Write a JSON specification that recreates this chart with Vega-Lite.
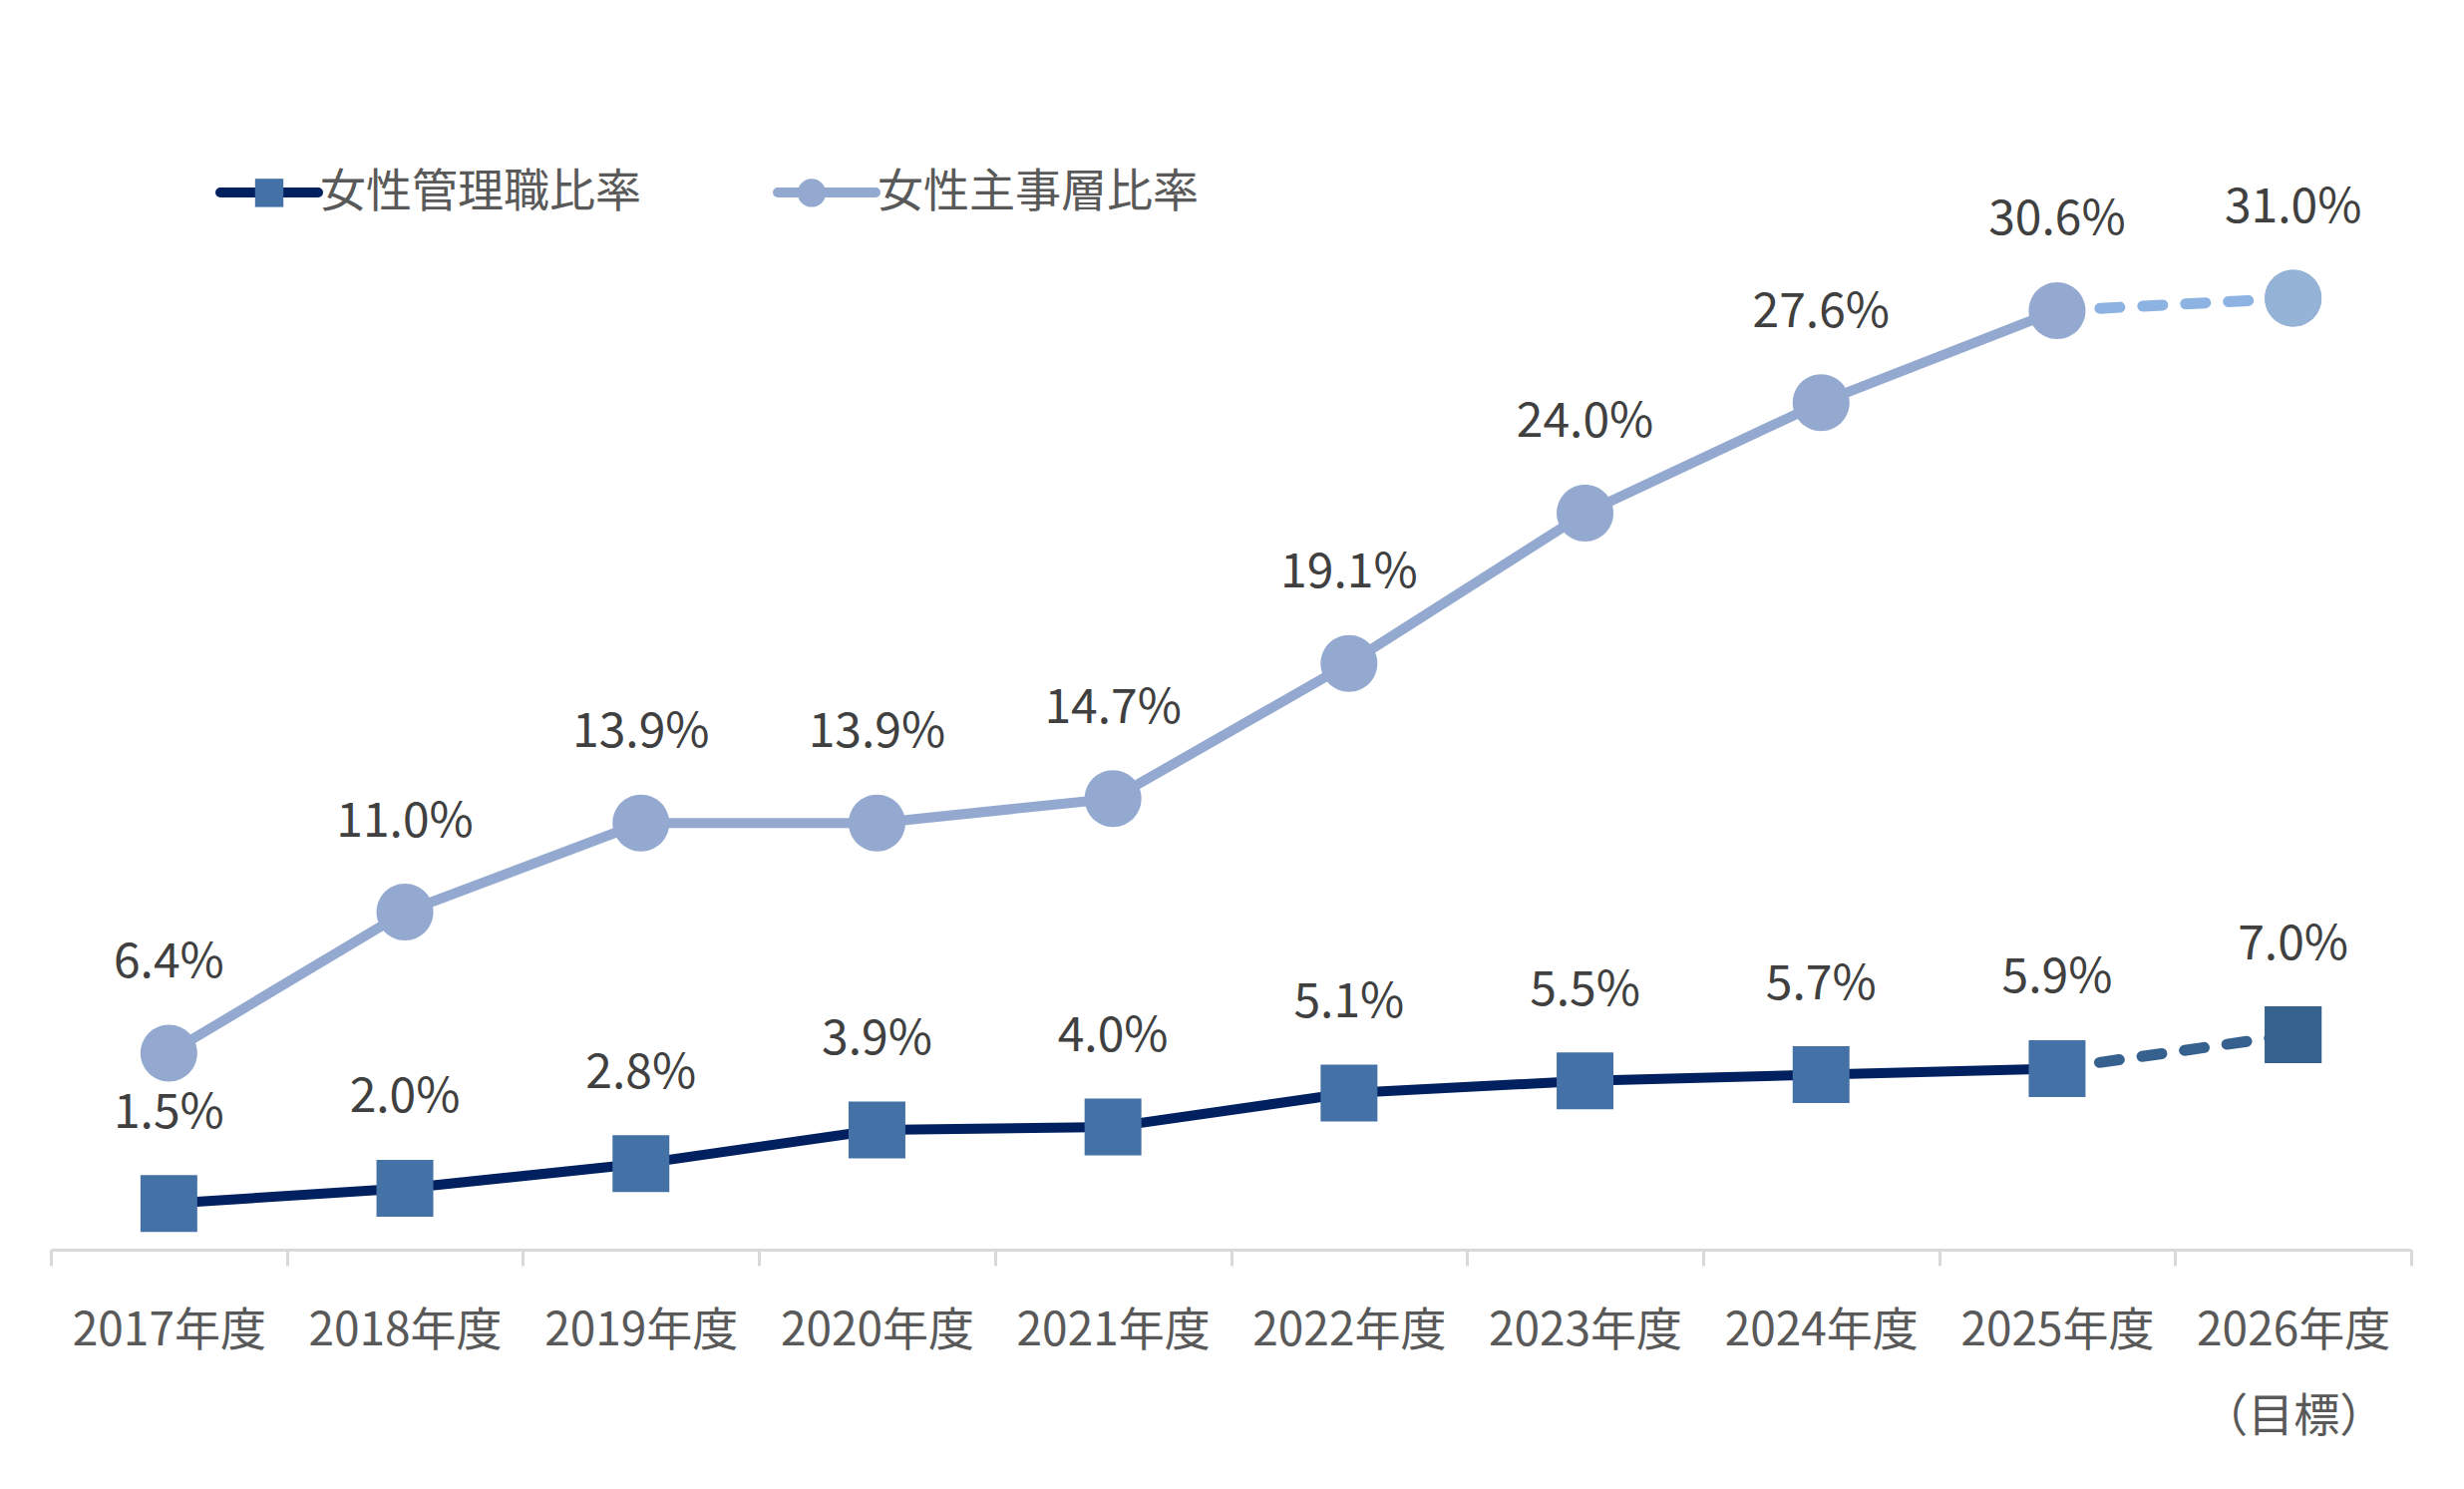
{
  "$schema": "https://vega.github.io/schema/vega-lite/v6.json",
  "width": 2367,
  "height": 1077,
  "autosize": "none",
  "padding": {"left": 51, "top": 176, "right": 53, "bottom": 240},
  "background": "#ffffff",
  "config": {
    "view": {"stroke": null},
    "font": "Noto Sans CJK JP"
  },
  "data": {
    "values": [
      {"year": "2017年度", "series": "女性管理職比率", "value": 0.015},
      {"year": "2018年度", "series": "女性管理職比率", "value": 0.020},
      {"year": "2019年度", "series": "女性管理職比率", "value": 0.028},
      {"year": "2020年度", "series": "女性管理職比率", "value": 0.039},
      {"year": "2021年度", "series": "女性管理職比率", "value": 0.040},
      {"year": "2022年度", "series": "女性管理職比率", "value": 0.051},
      {"year": "2023年度", "series": "女性管理職比率", "value": 0.055},
      {"year": "2024年度", "series": "女性管理職比率", "value": 0.057},
      {"year": "2025年度", "series": "女性管理職比率", "value": 0.059},
      {"year": "2026年度（目標）", "series": "女性管理職比率", "value": 0.070},
      {"year": "2017年度", "series": "女性主事層比率", "value": 0.064},
      {"year": "2018年度", "series": "女性主事層比率", "value": 0.110},
      {"year": "2019年度", "series": "女性主事層比率", "value": 0.139},
      {"year": "2020年度", "series": "女性主事層比率", "value": 0.139},
      {"year": "2021年度", "series": "女性主事層比率", "value": 0.147},
      {"year": "2022年度", "series": "女性主事層比率", "value": 0.191},
      {"year": "2023年度", "series": "女性主事層比率", "value": 0.240},
      {"year": "2024年度", "series": "女性主事層比率", "value": 0.276},
      {"year": "2025年度", "series": "女性主事層比率", "value": 0.306},
      {"year": "2026年度（目標）", "series": "女性主事層比率", "value": 0.310}
    ]
  },
  "encoding": {
    "x": {
      "field": "year",
      "type": "ordinal",
      "bandPosition": 0.5,
      "sort": null,
      "title": null,
      "scale": {"type": "band", "paddingInner": 0, "paddingOuter": 0},
      "axis": {
        "labelAngle": 0,
        "labelFontSize": 46,
        "labelColor": "#595959",
        "labelPadding": 43,
        "labelLimit": 0,
        "labelLineHeight": 86,
        "labelExpr": "datum.label == '2026年度（目標）' ? ['2026年度', '（目標）'] : datum.label",
        "tickBand": "extent",
        "tickSize": 16,
        "tickWidth": 3,
        "tickColor": "#D9D9D9",
        "domainColor": "#D9D9D9",
        "domainWidth": 3,
        "grid": false
      }
    },
    "y": {
      "field": "value",
      "type": "quantitative",
      "scale": {"domain": [0, 0.35], "nice": false},
      "axis": null
    }
  },
  "layer": [
    {
      "transform": [{"filter": "datum.year != '2026年度（目標）'"}],
      "mark": {"type": "line", "strokeWidth": 10, "strokeCap": "round", "strokeJoin": "round"},
      "encoding": {
        "stroke": {
          "field": "series",
          "type": "nominal",
          "scale": {"domain": ["女性管理職比率", "女性主事層比率"], "range": ["#002060", "#94A9D0"]},
          "legend": {
            "orient": "none",
            "legendX": 165,
            "legendY": -37,
            "direction": "horizontal",
            "title": null,
            "padding": 0,
            "symbolType": "stroke",
            "symbolSize": 9604,
            "symbolStrokeWidth": 10,
            "labelFontSize": 46,
            "labelColor": "#595959",
            "labelOffset": -3,
            "labelLimit": 0,
            "columnPadding": 117,
            "encode": {"symbols": {"update": {"strokeCap": {"value": "round"}}}}
          }
        }
      }
    },
    {
      "transform": [{"filter": "datum.year == '2025年度' || datum.year == '2026年度（目標）'"}],
      "mark": {"type": "line", "strokeWidth": 11, "strokeCap": "round", "strokeDash": [20, 23]},
      "encoding": {
        "detail": {"field": "series"},
        "stroke": {
          "condition": {"test": "datum.series == '女性管理職比率'", "value": "#36618F"},
          "value": "#8DB3E2"
        }
      }
    },
    {
      "mark": {"type": "point", "filled": true, "opacity": 1, "size": 38600},
      "encoding": {
        "color": {
          "field": "series",
          "type": "nominal",
          "sort": "descending",
          "scale": {"range": ["#4472A6", "#94A9D0"]},
          "legend": {
            "orient": "none",
            "legendX": 165,
            "legendY": -37,
            "direction": "horizontal",
            "title": null,
            "padding": 0,
            "symbolSize": 9604,
            "symbolStrokeWidth": 10,
            "symbolStrokeColor": "transparent",
            "labelFontSize": 46,
            "labelColor": "#595959",
            "labelOpacity": 0,
            "labelOffset": -3,
            "labelLimit": 0,
            "columnPadding": 117
          }
        },
        "shape": {
          "field": "series",
          "type": "nominal",
          "sort": "descending",
          "scale": {"range": ["M-0.29,-0.29H0.29V0.29H-0.29Z", "M-0.29,0A0.29,0.29 0 1,0 0.29,0A0.29,0.29 0 1,0 -0.29,0Z"]},
          "legend": {
            "orient": "none",
            "legendX": 165,
            "legendY": -37,
            "direction": "horizontal",
            "title": null,
            "padding": 0,
            "symbolSize": 9604,
            "symbolStrokeWidth": 10,
            "symbolStrokeColor": "transparent",
            "labelFontSize": 46,
            "labelColor": "#595959",
            "labelOpacity": 0,
            "labelOffset": -3,
            "labelLimit": 0,
            "columnPadding": 117
          }
        }
      }
    },
    {
      "transform": [{"filter": "datum.year == '2026年度（目標）'"}],
      "mark": {"type": "point", "filled": true, "opacity": 1, "size": 38600},
      "encoding": {
        "fill": {
          "condition": {"test": "datum.series == '女性管理職比率'", "value": "#36618F"},
          "value": "#95B3D7"
        },
        "shape": {
          "condition": {"test": "datum.series == '女性管理職比率'", "value": "M-0.29,-0.29H0.29V0.29H-0.29Z"},
          "value": "M-0.29,0A0.29,0.29 0 1,0 0.29,0A0.29,0.29 0 1,0 -0.29,0Z"
        }
      }
    },
    {
      "mark": {"type": "text", "dy": -90, "fontSize": 48, "color": "#404040", "baseline": "middle"},
      "encoding": {
        "text": {"field": "value", "type": "quantitative", "format": ".1%"}
      }
    }
  ]
}
